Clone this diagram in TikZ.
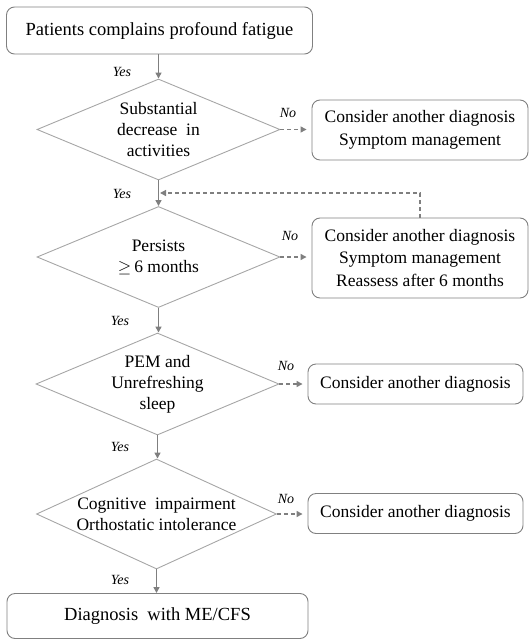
\documentclass[tikz,border=0pt]{standalone}
\usepackage{fontspec}
\setmainfont{Liberation Serif}
\usetikzlibrary{shapes.geometric,arrows.meta}
\definecolor{boxgray}{HTML}{808080}
\definecolor{diagray}{HTML}{A6A6A6}
\definecolor{arrgray}{HTML}{7F7F7F}
\begin{document}
\begin{tikzpicture}[x=1pt,y=-1pt,
  box/.style={draw=boxgray, line width=0.9pt, rounded corners=8pt, inner sep=0pt, align=center, font=\fontsize{17.5}{22.5}\selectfont},
  bigbox/.style={box, font=\fontsize{18.5}{22}\selectfont},
  dia/.style={draw=diagray, line width=0.9pt, shape=diamond, inner sep=0pt, minimum width=243pt},
  dtext/.style={align=center, inner sep=0pt, font=\fontsize{17.5}{21}\selectfont},
  lab/.style={inner sep=0pt, font=\fontsize{14}{16}\selectfont\itshape},
  yesarr/.style={draw=arrgray, line width=1.4pt, -{Triangle[length=6pt,width=6pt]}},
  noarr/.style={draw=arrgray, line width=1.3pt, dashed, dash pattern=on 4pt off 3pt, -{Triangle[length=6pt,width=6pt]}, shorten >=5pt},
]
\useasboundingbox (0,0) rectangle (529,640);

% main column
\node[bigbox, minimum width=306pt, minimum height=47pt] (n1) at (159.5,30.5) {Patients complains profound fatigue};
\node[dia, minimum height=101pt, label={[dtext]center:{Substantial\\decrease\ \ in\\activities}}] (d1) at (158.5,129.5) {};
\node[dia, minimum height=101pt, label={[dtext]center:{Persists\\$\geq$\,6 months}}] (d2) at (158.5,257) {};
\node[dia, minimum height=102pt, label={[dtext]center:{PEM and\\Unrefreshing\\sleep}}] (d3) at (157.5,384) {};
\node[dia, minimum height=110pt, minimum width=240pt, label={[dtext]center:{Cognitive\ \ impairment\\Orthostatic intolerance}}] (d4) at (156.5,514) {};
\node[bigbox, minimum width=301pt, minimum height=45pt] (n2) at (157.5,616) {Diagnosis\ \ with ME/CFS};

% right column
\node[box, minimum width=216pt, minimum height=60pt] (b1) at (420,130) {Consider another diagnosis\\Symptom management};
\node[box, minimum width=216pt, minimum height=80pt] (b2) at (420,258) {Consider another diagnosis\\Symptom management\\Reassess after 6 months};
\node[box, minimum width=215pt, minimum height=40pt] (b3) at (415.5,384) {Consider another diagnosis};
\node[box, minimum width=215pt, minimum height=40pt] (b4) at (415.5,513.5) {Consider another diagnosis};

% yes arrows
\coordinate (j1) at (158.5,193);
\draw[yesarr] (n1.south -| d1.north) -- (d1.north);
\draw[yesarr] (d1.south) -- (d2.north);
\draw[yesarr] (d2.south) -- (d2.south |- d3.north);
\draw[yesarr] (d3.south) -- (d3.south |- d4.north);
\draw[yesarr] (d4.south) -- (d4.south |- n2.north);

% no arrows
\draw[noarr] (d1.east) -- (b1.west |- d1.east);
\draw[noarr] (d2.east) -- (b2.west |- d2.east);
\draw[noarr] (d3.east) -- (b3.west |- d3.east);
\draw[noarr] (d4.east) -- (b4.west |- d4.east);

% feedback
\draw[noarr, shorten >=1.5pt] (b2.north) |- (j1);

% labels
\node[lab] (y1) at (122,72) {Yes};
\node[lab] (y2) at (122,194) {Yes};
\node[lab] (y3) at (120,321) {Yes};
\node[lab] (y4) at (120,447) {Yes};
\node[lab] (y5) at (120,580) {Yes};
\node[lab] (no1) at (288,113) {No};
\node[lab] (no2) at (290,236) {No};
\node[lab] (no3) at (286,366) {No};
\node[lab] (no4) at (286,499) {No};
\end{tikzpicture}
\end{document}
